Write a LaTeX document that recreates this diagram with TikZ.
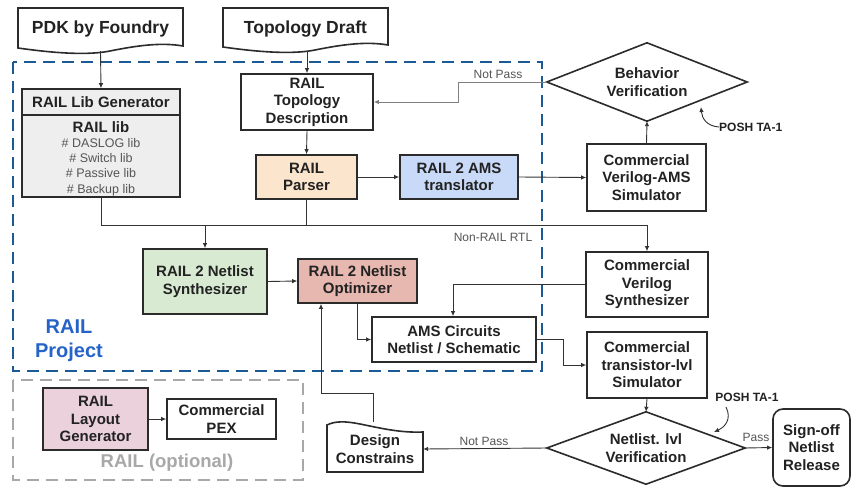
\documentclass[tikz,border=0pt]{standalone}
\usepackage{fontspec}
\setmainfont{Liberation Sans}
\usetikzlibrary{arrows.meta,calc}
\definecolor{boxc}{HTML}{2B2B2B}
\definecolor{linec}{HTML}{333333}
\definecolor{txt}{HTML}{222222}
\definecolor{libfill}{HTML}{EEEEEE}
\definecolor{parsefill}{HTML}{FCE5CD}
\definecolor{transfill}{HTML}{C9DAF8}
\definecolor{synfill}{HTML}{D9EAD3}
\definecolor{optfill}{HTML}{E6B8AF}
\definecolor{layfill}{HTML}{EAD1DC}
\definecolor{projblue}{HTML}{1C5A96}
\definecolor{projtxt}{HTML}{2563C8}
\definecolor{optgray}{HTML}{A8A8A8}
\definecolor{lblgray}{HTML}{555555}
\newcommand\libsm{\fontsize{12.5}{15.2}\selectfont\mdseries}
\begin{document}
\begin{tikzpicture}[x=1pt,y=-1pt,
  boxline/.style={draw=boxc,line width=1.6pt},
  box/.style={boxline,font=\fontsize{15}{17.5}\selectfont\bfseries,text=txt,align=center,inner sep=0pt},
  plain/.style={font=\fontsize{15}{17.5}\selectfont\bfseries,text=txt,align=center,inner sep=0pt},
  ln/.style={draw=linec,line width=0.9pt},
  arr/.style={ln,-{Latex[length=5pt,width=4.5pt]}},
  lbl/.style={font=\fontsize{12}{14}\selectfont,text=lblgray,inner sep=0pt},
  posh/.style={font=\fontsize{12}{14}\selectfont\bfseries,text=txt,inner sep=0pt},
]
\useasboundingbox[fill=white] (0,0) rectangle (851,487);

% group frames
\draw[projblue,line width=2.2pt,dash pattern=on 12pt off 7pt] (13,62) rectangle (542,371);
\draw[optgray,line width=2pt,dash pattern=on 12pt off 7pt] (13,380) rectangle (303,480);
\node[font=\fontsize{20}{24}\selectfont\bfseries,text=projtxt,align=center,inner sep=0pt] (projlbl) at (69,341) {RAIL\\Project};
\node[font=\fontsize{18.5}{22}\selectfont\bfseries,text=optgray,inner sep=0pt] (optlbl) at (167,463) {RAIL (optional)};

% document shapes
\draw[boxline,fill=white] (18,8) -- (183,8) -- (183,46) .. controls (160,42) and (135,46) .. (110,51) .. controls (90,55) and (60,54) .. (18,48) -- cycle;
\node[plain,font=\fontsize{17.5}{20}\selectfont\bfseries,minimum width=165pt,minimum height=44pt] (pdk) at (100.5,29) {PDK by Foundry};
\draw[boxline,fill=white] (223,8) -- (388,8) -- (388,45) .. controls (365,41) and (340,45) .. (315,50) .. controls (295,54) and (265,53) .. (223,47) -- cycle;
\node[plain,font=\fontsize{17.5}{20}\selectfont\bfseries,minimum width=165pt,minimum height=44pt] (tdraft) at (305.5,29) {Topology Draft};
\draw[boxline,fill=white] (327,472) -- (327,425) .. controls (335,421) and (345,421) .. (360,424) .. controls (380,428) and (400,433) .. (423,432) -- (423,472) -- cycle;
\node[plain,minimum width=96pt,minimum height=48pt] (dc) at (375,449) {Design\\Constrains};

% boxes
\node[box,fill=libfill,minimum width=158pt,minimum height=26pt] (libhead) at (101,102) {RAIL Lib Generator};
\node[box,fill=libfill,minimum width=158pt,minimum height=82pt] (libbody) at (101,156) {};
\node[plain] (libtitle) at (101,127) {RAIL lib};
\node[plain,align=center,font=\libsm,text=lblgray] (libitems) at (101,167)
  {\# DASLOG lib\\\# Switch lib\\\# Passive lib\\\# Backup lib};
\node[box,minimum width=132pt,minimum height=56pt] (topo) at (307,102) {RAIL\\Topology\\Description};
\node[box,fill=parsefill,minimum width=101pt,minimum height=44pt] (parser) at (306.5,177) {RAIL\\Parser};
\node[box,fill=transfill,minimum width=118pt,minimum height=44pt] (trans) at (459,177) {RAIL 2 AMS\\translator};
\node[box,minimum width=119pt,minimum height=67pt] (vams) at (646.5,177.5) {Commercial\\Verilog-AMS\\Simulator};
\node[plain,minimum width=200pt,minimum height=78pt] (behav) at (647,82) {Behavior\\Verification};
\draw[boxline] (behav.west) -- (behav.north) -- (behav.east) -- (behav.south) -- cycle;
\node[box,fill=synfill,minimum width=124pt,minimum height=65pt] (synth) at (205,281.5) {RAIL 2 Netlist\\Synthesizer};
\node[box,fill=optfill,minimum width=119pt,minimum height=44pt] (opt) at (357.5,281) {RAIL 2 Netlist\\Optimizer};
\node[box,minimum width=122pt,minimum height=65pt] (cvs) at (647,284.5) {Commercial\\Verilog\\Synthesizer};
\node[box,minimum width=164pt,minimum height=45pt] (ams) at (454,339.5) {AMS Circuits\\Netlist / Schematic};
\node[box,minimum width=120pt,minimum height=66pt] (ctl) at (647,365) {Commercial\\transistor-lvl\\Simulator};
\node[plain,minimum width=198pt,minimum height=72pt] (nv) at (646,448) {Netlist. lvl\\Verification};
\draw[boxline] (nv.west) -- (nv.north) -- (nv.east) -- (nv.south) -- cycle;
\node[box,rounded corners=10pt,minimum width=77pt,minimum height=77pt] (sign) at (811.5,447.5) {Sign-off\\Netlist\\Release};
\node[box,fill=layfill,minimum width=105pt,minimum height=62pt] (layout) at (95.5,419) {RAIL\\Layout\\Generator};
\node[box,minimum width=109pt,minimum height=40pt] (pex) at (221.5,419) {Commercial\\PEX};

% connectors
\draw[arr] (pdk.south) -- (libhead.north);
\draw[arr] (topo.north |- tdraft.south) -- (topo.north);
\draw[arr] (topo.south) -- (parser.north);
\draw[arr] (parser.east) -- (trans.west);
\draw[arr] (trans.east) -- (vams.west);
\draw[arr] (vams.north) -- (behav.south);
\draw[arr,draw=gray] (behav.west) -- (458,82) |- (topo.east);
\node[lbl] (np1) at (498,74) {Not Pass};
\draw[arr] (libbody.south) -- (libbody.south |- 0,225) -| (cvs.north);
\draw[ln] (parser.south) -- (parser.south |- 0,225);
\draw[arr] (synth.north |- 0,225) -- (synth.north);
\node[lbl] (nonrail) at (493,237) {Non-RAIL RTL};
\draw[arr] (synth.east) -- (opt.west);
\draw[arr] (cvs.west) -| ([xshift=-1pt]ams.north);
\draw[arr] (opt.south) |- (ams.west);
\draw[arr] (ams.east) -- ++(27,0) |- (ctl.west);
\draw[arr] (ctl.south) -- (nv.north);
\draw[arr] (nv.east) -- (sign.west);
\node[lbl] (passlbl) at (756,437) {Pass};
\draw[arr] (nv.west) -- (dc.east);
\node[lbl] (np2) at (484,441) {Not Pass};
\draw[arr] (373,422) -- (373,393) -| ([xshift=-36.5pt]opt.south);
\draw[arr] (layout.east) -- (pex.west);

% POSH annotations
\node[posh,anchor=west] (posh1) at (719,127) {POSH TA-1};
\draw[arr] (posh1.west) .. controls (706,126) and (702,118) .. (701,107);
\node[posh] (posh2) at (747,397) {POSH TA-1};
\draw[arr] (726,407) .. controls (732,419) and (725,427) .. (714,432);
\end{tikzpicture}
\end{document}
